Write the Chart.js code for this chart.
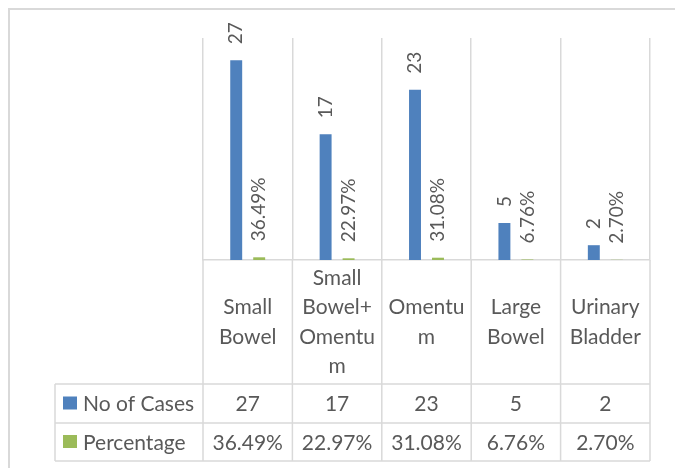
<!DOCTYPE html>
<html><head><meta charset="utf-8">
<script src="https://cdn.jsdelivr.net/npm/chart.js@4/dist/chart.umd.min.js"></script>
<style>html,body{margin:0;padding:0;background:#fff;}canvas{display:block;}</style>
</head><body>
<canvas id="c" width="675" height="468"></canvas>
<script>
const categories = [["Small","Bowel"],["Small","Bowel+","Omentu","m"],["Omentu","m"],["Large","Bowel"],["Urinary","Bladder"]];
const seriesNames = ["No of Cases","Percentage"];
const cases = [27,17,23,5,2];
const percentages = [0.3649,0.2297,0.3108,0.0676,0.0270];
const yMin = 0, yMax = 30;

const BLUE = '#4f81bd', GREEN = '#9bbb59', GRID = '#d9d9d9', TXT = '#595959';
const FONT = 'Lato, "Open Sans", sans-serif';
const fmts = [v => String(v), v => (v*100).toFixed(2) + '%'];

const tablePlugin = {
  id: 'tbl',
  beforeDraw(chart){
    const ctx = chart.ctx;
    ctx.save(); ctx.strokeStyle = GRID; ctx.lineWidth = 2;
    ctx.strokeRect(9, 9, 700, 500); ctx.restore();
  },
  afterDraw(chart){
    const ctx = chart.ctx, xs = chart.scales.x, ca = chart.chartArea;
    const n = categories.length;
    const bounds = [];
    for (let i = 0; i <= n; i++) bounds.push(xs.getPixelForValue(i - 0.5));
    const headerBottom = ca.bottom + 124, row1Bottom = headerBottom + 39, row2Bottom = row1Bottom + 38;
    const tableLeft = 55;
    ctx.save();
    ctx.strokeStyle = GRID; ctx.lineWidth = 1.5;
    ctx.beginPath();
    bounds.forEach(b => { ctx.moveTo(b, ca.bottom); ctx.lineTo(b, row2Bottom); });
    [headerBottom, row1Bottom, row2Bottom].forEach(y => { ctx.moveTo(tableLeft, y); ctx.lineTo(bounds[n], y); });
    ctx.moveTo(tableLeft, headerBottom); ctx.lineTo(tableLeft, row2Bottom);
    ctx.stroke();
    const rows = [
      {name: seriesNames[0], color: BLUE, vals: cases.map(fmts[0]), top: headerBottom, bot: row1Bottom},
      {name: seriesNames[1], color: GREEN, vals: percentages.map(fmts[1]), top: row1Bottom, bot: row2Bottom}
    ];
    ctx.font = '21px ' + FONT; ctx.textBaseline = 'middle';
    rows.forEach(r => {
      const cy = (r.top + r.bot) / 2;
      ctx.fillStyle = r.color; ctx.fillRect(63, cy - 7, 14, 13);
      ctx.fillStyle = TXT; ctx.textAlign = 'left'; ctx.fillText(r.name, 83, cy + 1);
      ctx.textAlign = 'center';
      r.vals.forEach((v, i) => ctx.fillText(v, (bounds[i] + bounds[i+1]) / 2, cy + 1));
    });
    ctx.font = '19px ' + FONT;
    chart.data.datasets.forEach((ds, di) => {
      const meta = chart.getDatasetMeta(di);
      meta.data.forEach((bar, i) => {
        ctx.save(); ctx.translate(bar.x, bar.y - 16); ctx.rotate(-Math.PI / 2);
        ctx.textAlign = 'left'; ctx.textBaseline = 'middle'; ctx.fillStyle = TXT;
        ctx.fillText(fmts[di](ds.data[i]), 0, 0); ctx.restore();
      });
    });
    ctx.restore();
  }
};

new Chart(document.getElementById('c'), {
  type: 'bar',
  data: {
    labels: categories,
    datasets: [
      {label: seriesNames[0], data: cases, backgroundColor: BLUE, barPercentage: 0.52, categoryPercentage: 0.514},
      {label: seriesNames[1], data: percentages, backgroundColor: GREEN, barPercentage: 0.52, categoryPercentage: 0.514}
    ]
  },
  options: {
    responsive: false, animation: false, devicePixelRatio: 1,
    layout: {padding: {left: 203, right: 25, top: 38, bottom: 0}},
    plugins: {legend: {display: false}, tooltip: {enabled: false}},
    scales: {
      y: {display: false, min: yMin, max: yMax},
      x: {
        afterFit(s){ s.height = 208; },
        grid: {color: GRID, lineWidth: 1.5, offset: true, drawTicks: false},
        border: {color: GRID, width: 1.5},
        ticks: {color: TXT, font: {family: FONT, size: 21, lineHeight: 1.4}, padding: 18, crossAlign: 'center', maxRotation: 0, autoSkip: false}
      }
    }
  },
  plugins: [tablePlugin]
});
</script>
</body></html>
